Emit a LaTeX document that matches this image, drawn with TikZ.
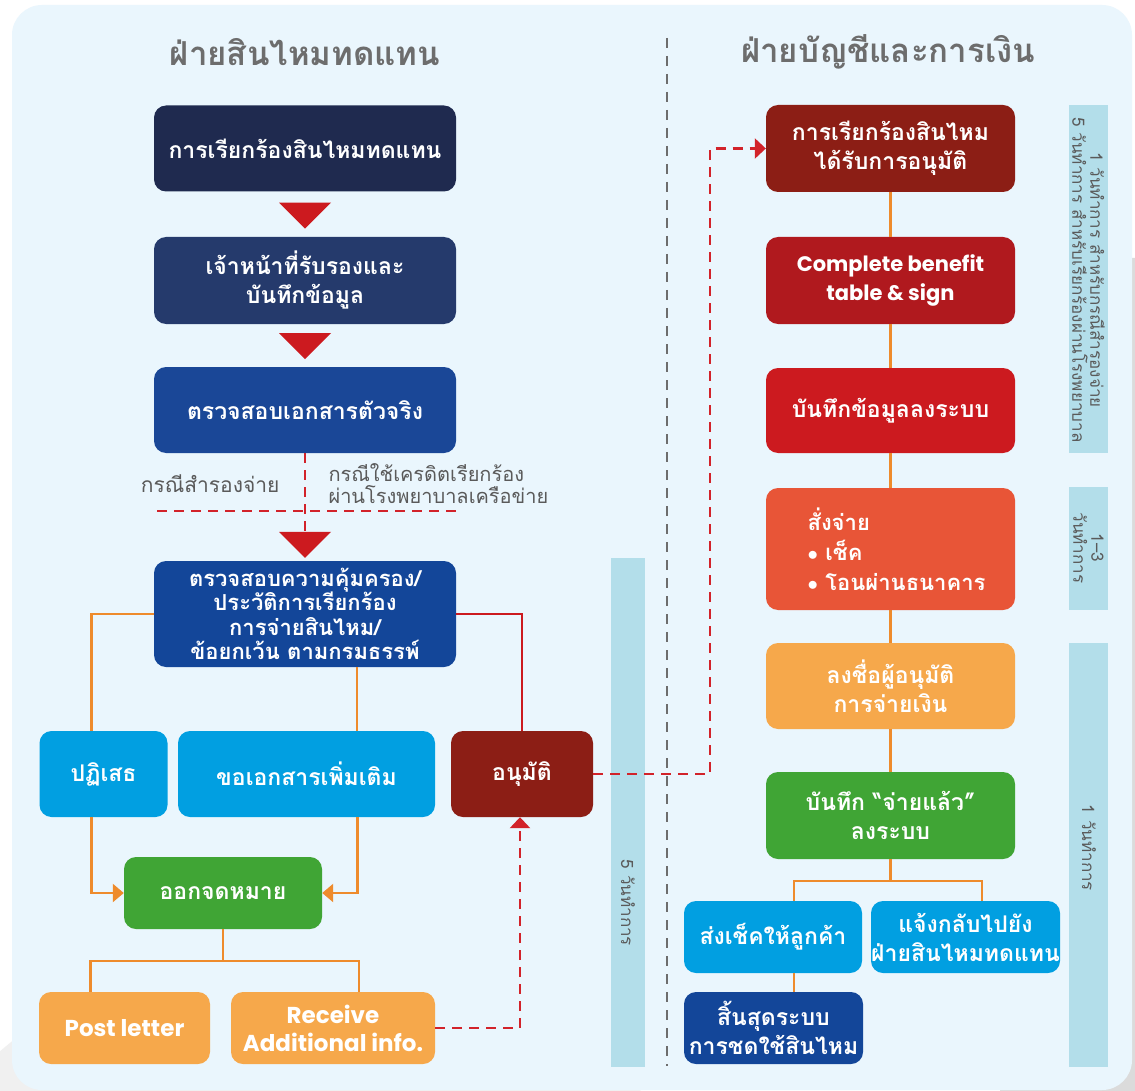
\documentclass[tikz,border=0pt]{standalone}
\usepackage{fontspec}
\setmainfont[Script=Thai]{Loma}
\newfontfamily\latinf{Poppins}
\usetikzlibrary{calc,arrows.meta}
\definecolor{panel}{HTML}{EAF6FD}
\definecolor{barc}{HTML}{B3DEEA}
\definecolor{navyA}{HTML}{1F2A4F}
\definecolor{navyB}{HTML}{253A6C}
\definecolor{blueC}{HTML}{1A4797}
\definecolor{blueD}{HTML}{134699}
\definecolor{cyanc}{HTML}{019FE1}
\definecolor{dred}{HTML}{8C1E15}
\definecolor{redB}{HTML}{B0191E}
\definecolor{redC}{HTML}{CC1A1F}
\definecolor{ored}{HTML}{E85537}
\definecolor{lorange}{HTML}{F6A84B}
\definecolor{greenc}{HTML}{40A535}
\definecolor{oline}{HTML}{EE8B2C}
\definecolor{rdashc}{HTML}{D2232A}
\definecolor{titlec}{HTML}{6D6D6D}
\definecolor{labelc}{HTML}{5A5A5A}
\begin{document}
\begin{tikzpicture}[x=1pt,y=-1pt,
  box/.style={rounded corners=12pt, inner sep=0pt, text=white, align=center,
    font=\fontsize{23}{29}\selectfont\bfseries},
  engbox/.style={box, font=\fontsize{21}{29}\selectfont\latinf\bfseries},
  orln/.style={draw=oline, line width=2.4pt},
  orarr/.style={orln, -{Triangle[length=11pt,width=18pt]}},
  rdln/.style={draw=redC, line width=2.4pt},
  rdash/.style={draw=rdashc, line width=2.6pt, dash pattern=on 10pt off 7pt},
  rdarr/.style={rdash, -{Triangle[length=11pt,width=20pt]}},
  tri/.style={fill=redC},
  sidebar/.style={fill=barc},
  sidetext/.style={rotate=-90, text=labelc, align=center, font=\fontsize{17}{18}\selectfont},
  ttl/.style={text=titlec, font=\fontsize{33}{36}\selectfont\bfseries},
  lbl/.style={text=labelc, font=\fontsize{21}{22}\selectfont}]
\useasboundingbox (0,0) rectangle (1135,1091);
% backdrop
\fill[white] (0,0) rectangle (1135,1091);
\fill[black!6] (300,1400) circle (460);
\fill[black!14, rounded corners=8pt] (1000,258) rectangle (1145,1100);
\fill[panel, rounded corners=30pt] (12,5) rectangle (1132,1090);
% titles
\node[ttl] (t1) at (305,52) {ฝ่ายสินไหมทดแทน};
\node[ttl] (t2) at (888,52) {ฝ่ายบัญชีและการเงิน};
% divider
\coordinate (d1) at (667,38);
\coordinate (d2) at (667,1066);
\draw[titlec, line width=2.6pt, dash pattern=on 10pt off 8pt] (d1) -- (d2);
% side bars
\fill[sidebar] (1069,105) rectangle (1108,453);
\node[sidetext] (s1) at (1088.5,280) {1 วันทำการ สำหรับกรณีสำรองจ่าย\\5 วันทำการ สำหรับเรียกร้องผ่านโรงพยาบาล};
\fill[sidebar] (1069,487) rectangle (1108,610);
\node[sidetext] (s2) at (1088.5,548) {1–3\\วันทำการ};
\fill[sidebar] (1069,643) rectangle (1108,1067);
\node[sidetext] (s3) at (1089,848) {1 วันทำการ};
\fill[sidebar] (611,558) rectangle (645,1067);
\node[sidetext] (s4) at (628,903) {5 วันทำการ};
% left column boxes
\node[box, fill=navyA, minimum width=302, minimum height=86] (b1) at (305,148.5) {การเรียกร้องสินไหมทดแทน};
\node[box, fill=navyB, minimum width=302, minimum height=87] (b2) at (305,280.5) {เจ้าหน้าที่รับรองและ\\บันทึกข้อมูล};
\node[box, fill=blueC, minimum width=302, minimum height=86] (b3) at (305,410) {ตรวจสอบเอกสารตัวจริง};
\node[box, fill=blueD, minimum width=302, minimum height=106, font=\fontsize{22}{24.5}\selectfont\bfseries] (b4) at (305,614) {ตรวจสอบความคุ้มครอง/\\ประวัติการเรียกร้อง\\การจ่ายสินไหม/\\ข้อยกเว้น ตามกรมธรรพ์};
\node[box, fill=cyanc, minimum width=128, minimum height=86] (rej) at (103.5,774) {ปฏิเสธ};
\node[box, fill=cyanc, minimum width=257, minimum height=86] (more) at (306.5,774) {ขอเอกสารเพิ่มเติม};
\node[box, fill=dred, minimum width=142, minimum height=86] (appr) at (522,774) {อนุมัติ};
\node[box, fill=greenc, minimum width=198, minimum height=72] (letter) at (223,893) {ออกจดหมาย};
\node[engbox, fill=lorange, minimum width=171, minimum height=72, font=\fontsize{23}{29}\selectfont\latinf\bfseries] (post) at (124.5,1028) {Post letter};
\node[engbox, fill=lorange, minimum width=204, minimum height=72, font=\fontsize{23}{28}\selectfont\latinf\bfseries] (recv) at (333,1028) {Receive\\Additional info.};
% triangles
\fill[tri] ($(b1.south)+(-26,11)$) -- ($(b1.south)+(26,11)$) -- ($(b1.south)+(0,37)$) -- cycle;
\fill[tri] ($(b2.south)+(-26,9)$) -- ($(b2.south)+(26,9)$) -- ($(b2.south)+(0,35)$) -- cycle;
\coordinate (t3top) at ($(b4.north)+(0,-29)$);
\draw[rdash] (b3.south) -- (t3top);
\fill[tri] ($(t3top)+(-26,0)$) -- ($(t3top)+(26,0)$) -- ($(b4.north)+(0,-3)$) -- cycle;
% branch labels
\coordinate (h1) at (157,511);
\coordinate (h2) at (458,511);
\draw[rdash] (h1) -- (h2);
\node[lbl, anchor=east] (la) at (283,484) {กรณีสำรองจ่าย};
\node[lbl, anchor=west, align=left, font=\fontsize{20}{22}\selectfont] (lb) at (325,484) {กรณีใช้เครดิตเรียกร้อง\\ผ่านโรงพยาบาลเครือข่าย};
% left connectors
\draw[orln] (b4.west) -| ([xshift=-12pt]rej.north);
\draw[orln] ([xshift=52pt]b4.south) -- ([xshift=52pt]b4.south |- more.north);
\draw[rdln] (b4.east) -| (appr.north);
\draw[orarr] ([xshift=-12pt]rej.south) |- (letter.west);
\draw[orarr] ([xshift=51pt]more.south) |- (letter.east);
\coordinate (lj) at ($(letter.south)+(0,32)$);
\draw[orln] (letter.south) -- (lj);
\draw[orln] ([xshift=-34pt]post.north) |- (lj) -| ([xshift=26pt]recv.north);
\draw[rdarr] (recv.east) -| ([xshift=-2pt]appr.south);
% right column boxes
\node[box, fill=dred, minimum width=249, minimum height=87] (r1) at (890.5,148.5) {การเรียกร้องสินไหม\\ได้รับการอนุมัติ};
\node[engbox, fill=redB, minimum width=249, minimum height=87] (r2) at (890.5,280.5) {Complete benefit\\table \& sign};
\node[box, fill=redC, minimum width=249, minimum height=85] (r3) at (890.5,410.5) {บันทึกข้อมูลลงระบบ};
\node[box, fill=ored, minimum width=249, minimum height=122, align=left, font=\fontsize{22}{30}\selectfont\bfseries] (r4) at (890.5,549) {\hspace*{12pt}สั่งจ่าย\\\hspace*{12pt}$\bullet$ เช็ค\\\hspace*{12pt}$\bullet$ โอนผ่านธนาคาร};
\node[box, fill=lorange, minimum width=249, minimum height=86] (r5) at (890.5,686) {ลงชื่อผู้อนุมัติ\\การจ่ายเงิน};
\node[box, fill=greenc, minimum width=249, minimum height=87] (r6) at (890.5,815.5) {บันทึก “จ่ายแล้ว”\\ลงระบบ};
\node[box, fill=cyanc, minimum width=178, minimum height=72] (r7) at (773,937) {ส่งเช็คให้ลูกค้า};
\node[box, fill=cyanc, minimum width=189, minimum height=72] (r8) at (965.5,937) {แจ้งกลับไปยัง\\ฝ่ายสินไหมทดแทน};
\node[box, fill=blueD, minimum width=179, minimum height=72] (r9) at (773.5,1028) {สิ้นสุดระบบ\\การชดใช้สินไหม};
% right connectors
\draw[orln] (r1.south) -- (r2.north);
\draw[orln] (r2.south) -- (r3.north);
\draw[orln] (r3.south) -- (r4.north);
\draw[orln] (r4.south) -- (r5.north);
\draw[orln] (r5.south) -- (r6.north);
\coordinate (rj) at ($(r6.south)+(0,22)$);
\draw[orln] (r6.south) -- (rj);
\draw[orln] ([xshift=21pt]r7.north) |- (rj) -| ([xshift=16.5pt]r8.north);
\draw[orln] ([xshift=21pt]r7.south) -- ([xshift=21pt]r7.south |- r9.north);
\draw[rdarr] (appr.east) -| ($(r1.west)+(-56,0)$) -- (r1.west);
\end{tikzpicture}
\end{document}
